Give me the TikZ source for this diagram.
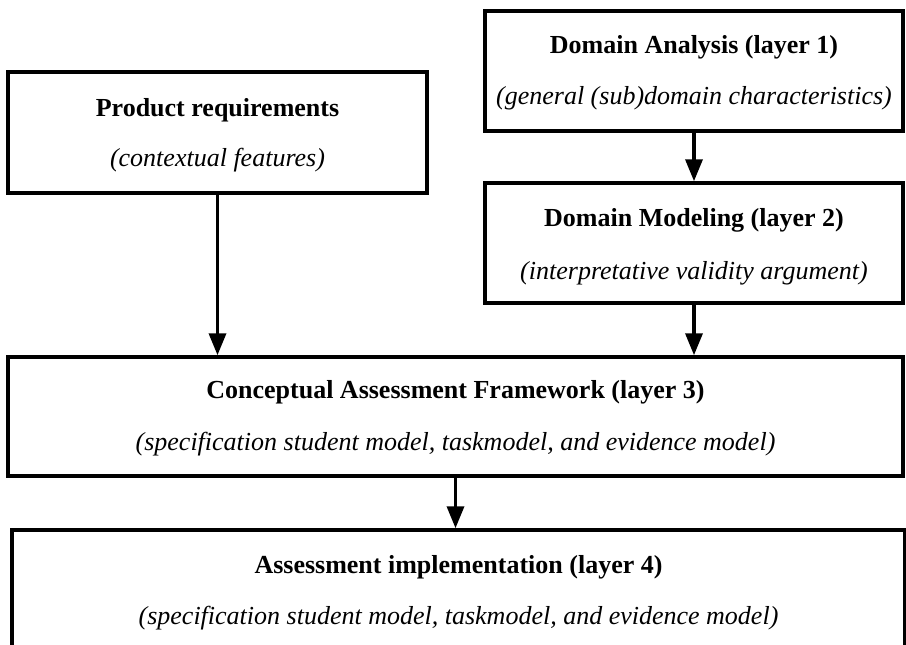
\documentclass[tikz,border=0pt]{standalone}
\usepackage{fontspec}
\setmainfont{Liberation Serif}
\usetikzlibrary{arrows.meta}
\begin{document}
\begin{tikzpicture}[x=1pt,y=-1pt,
  box/.style={draw=black, line width=3.5pt, inner sep=0pt},
  ttl/.style={font=\fontsize{26}{30}\selectfont\bfseries, inner sep=0pt},
  sub/.style={font=\fontsize{26}{30}\selectfont\itshape, inner sep=0pt},
  arr/.style={-{Triangle[length=22pt,width=17pt]}, line width=3.5pt}]
\useasboundingbox (0,0) rectangle (906,645);
\fill[white] (0,0) rectangle (906,645);
\begin{scope}
\clip (0,0) rectangle (906,645);
\node[box, minimum width=419pt, minimum height=121pt] (pr) at (217.5,132.5) {};
\node[box, minimum width=418pt, minimum height=120pt] (da) at (694,71) {};
\node[box, minimum width=418pt, minimum height=120pt] (dm) at (694,243) {};
\node[box, minimum width=895pt, minimum height=119pt] (caf) at (455.5,416.5) {};
\node[box, minimum width=893pt, minimum height=160pt] (ai) at (458.5,610) {};
\end{scope}

\node[ttl] (prt) at (217.5,110) {Product requirements};
\node[sub] (prs) at (217.5,160) {(contextual features)};
\node[ttl] (dat) at (694,47) {Domain Analysis (layer 1)};
\node[sub] (das) at (694,98) {(general (sub)domain characteristics)};
\node[ttl] (dmt) at (694,220) {Domain Modeling (layer 2)};
\node[sub] (dms) at (694,273) {(interpretative validity argument)};
\node[ttl] (caft) at (455.5,392) {Conceptual Assessment Framework (layer 3)};
\node[sub] (cafs) at (455.5,444) {(specification student model, taskmodel, and evidence model)};
\node[ttl] (ait) at (458.5,567) {Assessment implementation (layer 4)};
\node[sub] (ais) at (458.5,618) {(specification student model, taskmodel, and evidence model)};

\draw[arr] (pr.south) -- (pr.south |- caf.north);
\draw[arr] (da.south) -- (dm.north);
\draw[arr] (dm.south) -- (dm.south |- caf.north);
\draw[arr] (caf.south) -- (caf.south |- ai.north);
\end{tikzpicture}
\end{document}
